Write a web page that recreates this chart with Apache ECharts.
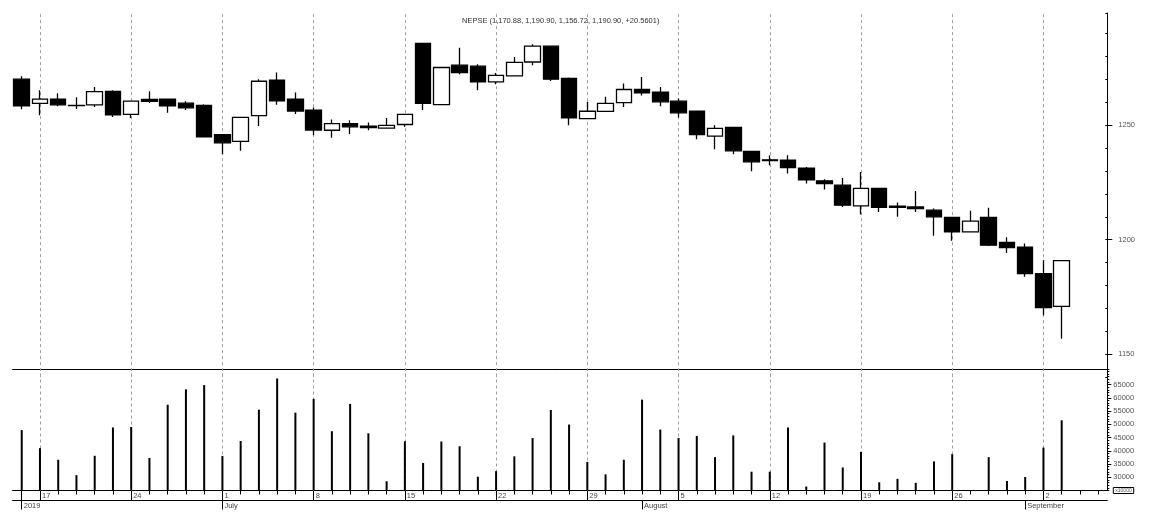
<!DOCTYPE html>
<html>
<head>
<meta charset="utf-8">
<script src="https://cdn.jsdelivr.net/npm/echarts@6/dist/echarts.min.js"></script>
<style>
html,body{margin:0;padding:0;background:#fff;}
#chart{width:1151px;height:520px;}
</style>
</head>
<body>
<div id="chart"></div>
<script>
// ---------------- DATA ----------------
const titleText = 'NEPSE (1,170.88, 1,190.90, 1,156.72, 1,190.90, +20.5601)';

const categories = [
  '2019-06-16','2019-06-17','2019-06-18','2019-06-19','2019-06-20','2019-06-23','2019-06-24','2019-06-25','2019-06-26','2019-06-27','2019-06-30',
  '2019-07-01','2019-07-02','2019-07-03','2019-07-04','2019-07-07','2019-07-08','2019-07-09','2019-07-10','2019-07-11','2019-07-14','2019-07-15',
  '2019-07-16','2019-07-17','2019-07-18','2019-07-21','2019-07-22','2019-07-23','2019-07-24','2019-07-25','2019-07-28','2019-07-29','2019-07-30','2019-07-31',
  '2019-08-01','2019-08-04','2019-08-05','2019-08-06','2019-08-07','2019-08-08','2019-08-11','2019-08-12','2019-08-13','2019-08-14','2019-08-15',
  '2019-08-18','2019-08-19','2019-08-20','2019-08-21','2019-08-22','2019-08-25','2019-08-26','2019-08-27','2019-08-28','2019-08-29',
  '2019-09-01','2019-09-02','2019-09-03','2019-09-04','2019-09-05'
];

const opens  = [1270.1,1259.5,1261.4,1258.6,1258.9,1264.8,1254.7,1261.3,1261.4,1259.6,
                1258.7,1245.9,1242.9,1254.2,1269.7,1261.4,1256.6,1247.8,1250.7,1249.6,
                1248.7,1250.3,1285.7,1259.0,1276.2,1275.8,1268.9,1271.5,1277.6,1284.5,
                1270.4,1252.9,1256.0,1259.9,1265.6,1264.4,1260.5,1256.1,1245.2,1249.0,
                1238.6,1234.9,1234.7,1231.2,1225.7,1223.8,1214.8,1222.4,1214.6,1214.3,
                1212.9,1209.7,1203.4,1209.7,1198.8,1196.7,1185.2,1170.88];
const closes = [1258.4,1261.4,1258.9,1258.7,1264.7,1254.5,1260.5,1260.4,1258.4,1257.6,
                1244.9,1242.3,1253.4,1269.2,1260.6,1256.2,1247.9,1250.7,1249.3,1249.0,
                1249.9,1254.7,1259.5,1275.2,1273.0,1268.9,1271.8,1277.4,1284.5,1270.1,
                1253.2,1256.1,1259.5,1265.6,1264.1,1260.2,1255.4,1245.9,1248.6,1238.8,
                1234.0,1234.5,1231.5,1226.1,1224.5,1215.1,1222.4,1214.1,1214.1,1213.6,
                1210.0,1203.4,1208.1,1197.6,1196.6,1185.2,1170.34,1190.90];
const lows   = [1257.0,1254.4,1258.3,1257.1,1258.0,1253.6,1253.2,1259.7,1255.4,1256.6,
                1244.8,1237.3,1238.8,1249.7,1258.9,1254.9,1245.6,1244.5,1246.2,1247.8,
                1248.4,1249.3,1256.6,1258.9,1272.3,1265.3,1267.9,1271.4,1276.2,1269.3,
                1250.0,1252.8,1255.9,1258.0,1263.0,1258.3,1253.4,1243.9,1239.5,1237.3,
                1229.9,1232.5,1228.9,1224.5,1221.9,1214.3,1211.0,1212.1,1210.0,1212.1,
                1201.7,1199.5,1203.3,1197.2,1194.2,1183.8,1167.0,1156.72];
const highs  = [1271.4,1265.3,1264.0,1262.2,1266.7,1265.3,1260.6,1264.8,1261.5,1260.5,
                1259.2,1246.0,1253.5,1270.1,1273.0,1264.3,1257.7,1252.5,1252.2,1251.2,
                1253.1,1254.8,1285.8,1275.3,1283.8,1276.6,1272.8,1279.8,1285.4,1284.6,
                1270.8,1260.2,1262.4,1268.2,1271.1,1266.7,1261.7,1256.2,1250.0,1249.1,
                1238.7,1236.9,1236.9,1231.8,1226.4,1227.0,1229.6,1222.5,1216.2,1221.3,
                1213.6,1209.8,1212.6,1213.9,1201.1,1198.3,1191.0,1190.90];

const volumes = [47800,41000,36600,30800,38100,48800,49000,37300,57400,63200,
                 64800,38000,43700,55500,67300,54400,59600,47400,57700,46600,
                 28500,43600,35400,43500,41700,30200,32300,37900,44800,55400,
                 49900,35800,31100,36600,59300,48000,44800,45600,37600,45800,
                 32100,32100,48800,26500,43100,33700,39600,28100,29400,27900,
                 36000,38700,24000,37600,28600,30100,41200,51500];

const weekTicks  = ['2019-06-17','2019-06-24','2019-07-01','2019-07-08','2019-07-15','2019-07-22',
                    '2019-07-29','2019-08-05','2019-08-12','2019-08-19','2019-08-26','2019-09-02'];
const weekLabels = ['17','24','1','8','15','22','29','5','12','19','26','2'];
const monthTicks  = ['2019-06-16','2019-07-01','2019-08-01','2019-09-01'];
const monthLabels = ['2019','July','August','September'];

const priceTickLabels  = [1150, 1200, 1250];
const volumeTickLabels = [30000, 35000, 40000, 45000, 50000, 55000, 60000, 65000];
const volumeUnitLabel = 'x10000';

// ---------------- CHART ----------------
const FONT = '"Liberation Sans", Arial, sans-serif';
const candleData = opens.map((o, i) => [o, closes[i], lows[i], highs[i]]);
const gridMarks = weekTicks.map(d => ({ xAxis: d }));
const dashed = { color: '#a0a0a0', type: [3, 3], width: 1 };

const chart = echarts.init(document.getElementById('chart'), null, { renderer: 'canvas' });
const L = 12.6, R = 43.7;

const option = {
  animation: false,
  backgroundColor: '#fff',
  textStyle: { fontFamily: FONT },
  title: {
    text: titleText, left: 462, top: 16.5, padding: 0,
    textStyle: { fontSize: 7.5, fontWeight: 'normal', color: '#333', fontFamily: FONT }
  },
  grid: [
    { left: L, right: R, top: 13, height: 364.1 },
    { left: L, right: R, top: 369, height: 121.5 }
  ],
  xAxis: [
    { gridIndex: 0, type: 'category', data: categories, show: false, boundaryGap: true },
    { gridIndex: 1, type: 'category', data: categories, position: 'bottom', boundaryGap: true,
      axisLine: { onZero: false, lineStyle: { color: '#000', width: 1 } },
      axisTick: { show: true, alignWithLabel: true, interval: 0, length: 4, lineStyle: { color: '#000' } },
      axisLabel: { show: false }, splitLine: { show: false } },
    { gridIndex: 1, type: 'category', data: categories, position: 'bottom', boundaryGap: true,
      axisLine: { show: false, onZero: false },
      axisTick: { show: true, alignWithLabel: true, length: 10, lineStyle: { color: '#000' },
        interval: (i, v) => i === 0 || weekTicks.indexOf(v) >= 0 },
      axisLabel: { show: true, interval: (i, v) => weekTicks.indexOf(v) >= 0,
        formatter: (v) => weekLabels[weekTicks.indexOf(v)] || '',
        align: 'left', margin: 1, padding: [0, 0, 0, 2], fontSize: 7.5, color: '#444', fontFamily: FONT },
      splitLine: { show: false } },
    { gridIndex: 1, type: 'category', data: categories, position: 'bottom', offset: 10, boundaryGap: true,
      axisLine: { show: true, onZero: false, lineStyle: { color: '#000', width: 1 } },
      axisTick: { show: true, alignWithLabel: true, length: 9, lineStyle: { color: '#000' },
        interval: (i, v) => monthTicks.indexOf(v) >= 0 },
      axisLabel: { show: true, interval: (i, v) => monthTicks.indexOf(v) >= 0,
        formatter: (v) => monthLabels[monthTicks.indexOf(v)] || '',
        align: 'left', margin: 1, padding: [0, 0, 0, 2], fontSize: 7.5, color: '#444', fontFamily: FONT },
      splitLine: { show: false } },
    { gridIndex: 1, type: 'category', data: categories, position: 'top', boundaryGap: true,
      axisLine: { show: true, onZero: false, lineStyle: { color: '#000', width: 1 } },
      axisTick: { show: false }, axisLabel: { show: false }, splitLine: { show: false } }
  ],
  yAxis: [
    { gridIndex: 0, type: 'value', position: 'right', min: 1140, max: 1299, interval: 10, scale: true,
      axisLine: { show: true, lineStyle: { color: '#000' } },
      axisTick: { show: true, inside: true, length: 2, lineStyle: { color: '#000' } },
      axisLabel: { show: false }, splitLine: { show: false } },
    { gridIndex: 0, type: 'value', position: 'right', min: 1140, max: 1299, scale: true,
      axisLine: { show: false },
      axisTick: { show: true, length: 5, customValues: priceTickLabels, lineStyle: { color: '#000' } },
      axisLabel: { show: true, customValues: priceTickLabels, margin: 11, fontSize: 7.5, color: '#555', fontFamily: FONT,
        formatter: (v) => String(v) },
      splitLine: { show: false } },
    { gridIndex: 1, type: 'value', position: 'right', min: 25000, max: 70870, interval: 1000, scale: true,
      axisLine: { show: true, lineStyle: { color: '#000' } },
      axisTick: { show: true, length: 2, lineStyle: { color: '#000' } },
      axisLabel: { show: false }, splitLine: { show: false } },
    { gridIndex: 1, type: 'value', position: 'right', min: 25000, max: 70870, scale: true,
      axisLine: { show: false },
      axisTick: { show: true, length: 4, customValues: volumeTickLabels, lineStyle: { color: '#000' } },
      axisLabel: { show: true, customValues: [25000].concat(volumeTickLabels), margin: 6, fontSize: 7.5,
        color: '#555', fontFamily: FONT,
        formatter: (v) => v === 25000 ? '{u|' + volumeUnitLabel + '}' : String(v),
        rich: { u: { fontSize: 5, color: '#555', borderColor: '#000', borderWidth: 1, padding: [1, 2, 0, 2], fontFamily: FONT } } },
      splitLine: { show: false } }
  ],
  series: [
    { type: 'candlestick', xAxisIndex: 0, yAxisIndex: 0, data: candleData, barWidth: 16, z: 3,
      itemStyle: { color: '#fff', color0: '#000', borderColor: '#000', borderColor0: '#000', borderColorDoji: '#000', borderWidth: 1.3 },
      markLine: { silent: true, z: 1, symbol: ['none', 'none'], label: { show: false }, lineStyle: dashed, data: gridMarks } },
    { type: 'bar', xAxisIndex: 1, yAxisIndex: 2, data: volumes, barWidth: 2, z: 3,
      itemStyle: { color: '#000' },
      markLine: { silent: true, z: 1, symbol: ['none', 'none'], label: { show: false }, lineStyle: dashed, data: gridMarks } }
  ]
};
chart.setOption(option);
</script>
</body>
</html>
